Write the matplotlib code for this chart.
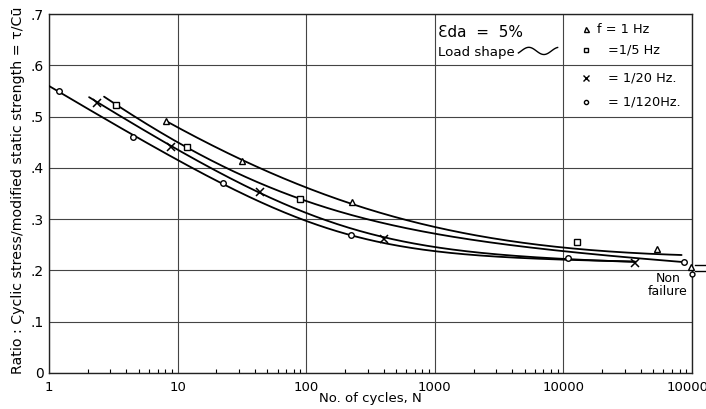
import numpy as np
import matplotlib
matplotlib.use("Agg")
import matplotlib.pyplot as plt

plt.rcParams['font.family'] = ['DejaVu Sans']

# Measured points: number of cycles to failure and stress ratio
tri_N = [8.1, 31.8, 229, 53700]
tri_y = [0.492, 0.414, 0.334, 0.242]
sq_N = [3.32, 11.8, 89.5, 12800]
sq_y = [0.522, 0.440, 0.340, 0.255]
x_N = [2.35, 8.9, 44, 403, 36000]
x_y = [0.527, 0.441, 0.353, 0.261, 0.215]
o_N = [1.19, 4.5, 22.5, 222, 10900, 86600]
o_y = [0.550, 0.461, 0.371, 0.270, 0.2236, 0.216]

# Non-failure runs stopped at 100000 cycles
nf_tri_N, nf_tri_y = [98000], [0.207]
nf_o_N, nf_o_y = [100000], [0.194]

# Readings along the hand-drawn trend curve of each frequency
tri_curve_N = [8.1, 31.8, 229, 538, 1000, 10000, 83000]
tri_curve_y = [0.492, 0.414, 0.332, 0.300, 0.284, 0.245, 0.230]
sq_curve_N = [2.68, 3.32, 11.8, 89.5, 538, 1000, 10000, 86600]
sq_curve_y = [0.540, 0.522, 0.440, 0.340, 0.284, 0.272, 0.238, 0.216]
x_curve_N = [2.05, 2.35, 8.9, 44, 403, 1000, 10000, 36000]
x_curve_y = [0.540, 0.527, 0.441, 0.353, 0.263, 0.246, 0.2235, 0.216]
o_curve_N = [1.0, 1.19, 4.5, 22.5, 222, 403, 1000, 10900, 36000]
o_curve_y = [0.5595, 0.550, 0.461, 0.371, 0.270, 0.2505, 0.238, 0.2222, 0.2165]

x_ticks = [1, 10, 100, 1000, 10000, 100000]
x_tick_labels = ["1", "10", "100", "1000", "10000", "100000"]
y_ticks = [0, 0.1, 0.2, 0.3, 0.4, 0.5, 0.6, 0.7]
y_tick_labels = ["0", ".1", ".2", ".3", ".4", ".5", ".6", ".7"]

legend_labels = ["f = 1 Hz", "=1/5 Hz", "= 1/20 Hz.", "= 1/120Hz."]


def knee_fit(lx, y):
    """Least-squares fit of a line that bends smoothly to a flatter line."""
    best = None
    for x0 in np.arange(1.0, 4.5, 0.02):
        for w in np.arange(0.08, 1.2, 0.02):
            knee = w * np.logaddexp(0.0, (lx - x0) / w)
            A = np.column_stack([np.ones_like(lx), lx, knee])
            coef, *_ = np.linalg.lstsq(A, y, rcond=None)
            err = np.sum((A @ coef - y) ** 2)
            if best is None or err < best[0]:
                best = (err, x0, w, coef)
    _, x0, w, coef = best
    return lambda x: (coef[0] + coef[1] * x
                      + coef[2] * w * np.logaddexp(0.0, (x - x0) / w))


def draw_curve(ax, N, y):
    lx = np.log10(N)
    f = knee_fit(lx, np.asarray(y, float))
    xs = np.linspace(lx[0], lx[-1], 300)
    ax.plot(10 ** xs, f(xs), color='black', lw=1.3,
            solid_capstyle='round', zorder=3)


fig = plt.figure(figsize=(7.06, 4.09), dpi=100)
ax = fig.add_axes([49 / 706, 1 - 373 / 409, 643 / 706, 359 / 409])

ax.set_xscale('log')
ax.set_xlim(1, 100000)
ax.set_ylim(0, 0.7)

for N, y in [(tri_curve_N, tri_curve_y), (sq_curve_N, sq_curve_y),
             (x_curve_N, x_curve_y), (o_curve_N, o_curve_y)]:
    draw_curve(ax, N, y)

mk = dict(color='black', linestyle='none', markerfacecolor='white',
          markeredgecolor='black', zorder=4)
ax.plot(tri_N, tri_y, marker='^', markersize=5, markeredgewidth=1.0, **mk)
ax.plot(sq_N, sq_y, marker='s', markersize=4.5, markeredgewidth=1.0, **mk)
ax.plot(x_N, x_y, marker='x', markersize=5.5, markeredgewidth=1.1, **mk)
ax.plot(o_N, o_y, marker='o', markersize=4, markeredgewidth=1.0, **mk)
ax.plot(nf_tri_N, nf_tri_y, marker='^', markersize=4.5, markeredgewidth=1.0,
        clip_on=False, **mk)
ax.plot(nf_o_N, nf_o_y, marker='o', markersize=3.5, markeredgewidth=1.0,
        clip_on=False, **mk)
# run-out arrows past the last gridline
for yv in (0.2105, 0.1988):
    ax.plot([106000, 135000], [yv, yv], color='black', lw=1.0,
            clip_on=False, zorder=4)

ax.text(65000, 0.185, "Non", ha='center', va='center', fontsize=9)
ax.text(65000, 0.159, "failure", ha='center', va='center', fontsize=9)

# test conditions
ax.text(1060, 0.664, "Ɛda  =  5%", ha='left', va='center', fontsize=11)
ax.text(1060, 0.625, "Load shape", ha='left', va='center', fontsize=9.6)
wx = np.linspace(3.65, 3.955, 100)
wy = 0.628 + 0.007 * np.sin((wx - 3.65) / 0.305 * 2.6 * np.pi - 0.6)
ax.plot(10 ** wx, wy, color='black', lw=1.0, zorder=3)

# key
key_y = [0.6706, 0.630, 0.575, 0.528]
key_markers = [('^', 3.6), ('s', 3.4), ('x', 4.5), ('o', 3.0)]
key_text_x = [18300, 22200, 22200, 22200]
for (m, s), yk, lab, tx in zip(key_markers, key_y, legend_labels, key_text_x):
    ax.plot([15000], [yk], marker=m, markersize=s, markeredgewidth=1.0, **mk)
    ax.text(tx, yk, lab, ha='left', va='center', fontsize=9.3)

ax.set_xticks(x_ticks)
ax.set_xticklabels(x_tick_labels, fontsize=9.5)
ax.set_yticks(y_ticks)
ax.set_yticklabels(y_tick_labels, fontsize=10)
ax.xaxis.set_minor_locator(matplotlib.ticker.LogLocator(base=10, subs=np.arange(2, 10)))
ax.xaxis.set_minor_formatter(matplotlib.ticker.NullFormatter())
ax.tick_params(axis='both', which='major', length=0, pad=4)
ax.tick_params(axis='x', which='major', pad=6)
ax.tick_params(axis='x', which='minor', direction='in', length=3, width=0.8,
               top=False)
ax.tick_params(axis='y', which='minor', length=0)

ax.grid(True, which='major', color='#444444', lw=0.8)
for s in ax.spines.values():
    s.set_linewidth(1.0)
    s.set_color('#222222')

ax.set_xlabel("No. of cycles, N", fontsize=9.5, va='center')
ax.xaxis.set_label_coords(0.5, -0.0724)
ax.set_ylabel("Ratio : Cyclic stress/modified static strength = τ/Cū",
              fontsize=10.2, va='center')
ax.yaxis.set_label_coords(-0.048, 0.51)

fig.savefig("out.png", dpi=100)
